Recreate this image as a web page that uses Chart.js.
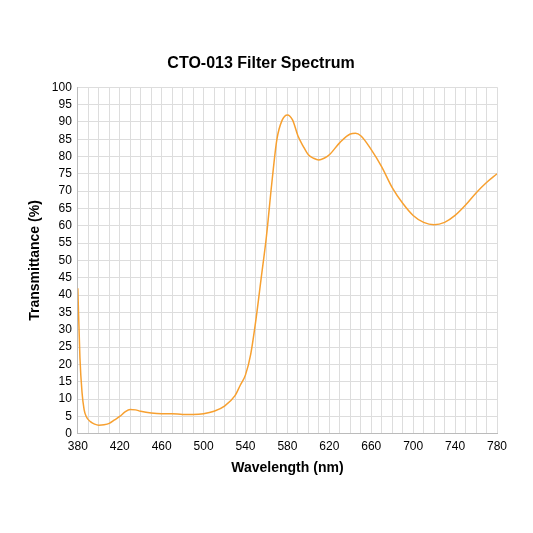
<!DOCTYPE html><html><head><script src="https://cdn.jsdelivr.net/npm/chart.js@4"></script>
<style>body{margin:0;background:#fff}#w{width:533px;height:533px}</style></head><body><div id="w"><canvas id="c"></canvas></div>
<script>
const wavelengths=[380,382,384,386,388,392,396,400,405,410,415,420,425,430,435,440,450,460,470,480,490,500,510,520,530,535,540,545,550,555,560,565,570,575,580,585,590,595,600,605,610,615,620,630,640,645,650,660,670,680,690,700,710,720,730,740,750,760,770,780];
const transmittance=[42,22,12,7,5,3.5,2.8,2.5,2.6,3,4,5,6.3,7,6.9,6.5,6,5.8,5.8,5.6,5.6,5.8,6.5,8,11,14,17,23,33,45,57,72,85,90.5,92,90.5,86,83,80.5,79.5,79,79.5,80.5,84,86.5,86.7,86,82,77,71,66.5,63,61,60.3,61,63,66,69.5,72.5,75];
const title='CTO-013 Filter Spectrum', xTitle='Wavelength (nm)', yTitle='Transmittance (%)';
new Chart(document.getElementById('c'),{type:'line',
data:{datasets:[{data:wavelengths.map((x,i)=>({x,y:transmittance[i]})),borderColor:'#f7a030',borderWidth:1.5,pointRadius:0,tension:0.4,cubicInterpolationMode:'monotone'}]},
options:{responsive:true,maintainAspectRatio:false,animation:false,
layout:{padding:{left:25,right:36,top:54,bottom:56}},
plugins:{legend:{display:false},title:{display:true,text:title,font:{family:'Liberation Sans',size:16,weight:'bold'},color:'#000',padding:{bottom:14}}},
scales:{x:{type:'linear',min:380,max:780,grid:{color:'#ddd',tickLength:0},border:{color:'#bbb'},
ticks:{stepSize:10,autoSkip:false,maxRotation:0,color:'#000',font:{family:'Liberation Sans',size:12},padding:6,callback:v=>(v-380)%40===0?v:''},
title:{display:true,text:xTitle,color:'#000',font:{family:'Liberation Sans',size:14,weight:'bold'},padding:0}},
y:{min:0,max:100,grid:{color:'#ddd',tickLength:0},border:{color:'#bbb'},ticks:{stepSize:5,autoSkip:false,color:'#000',font:{family:'Liberation Sans',size:12},padding:6},
title:{display:true,text:yTitle,color:'#000',font:{family:'Liberation Sans',size:14,weight:'bold'},padding:2}}}}});
</script></body></html>
